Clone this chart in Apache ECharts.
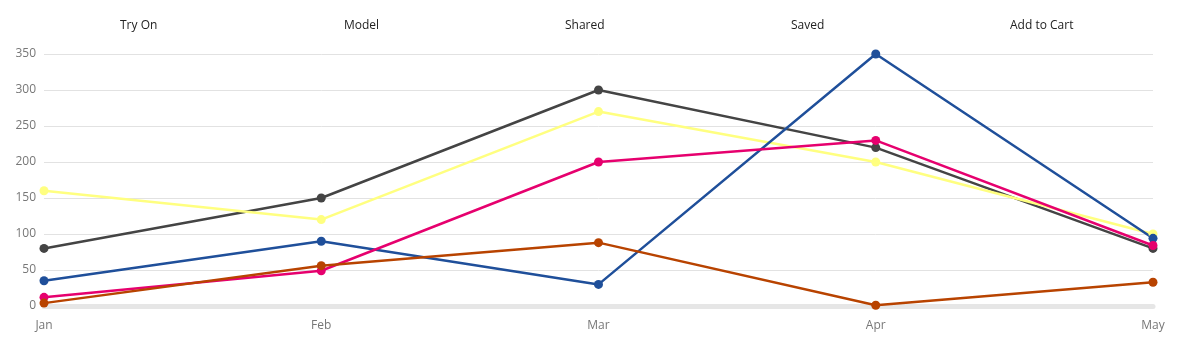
<!DOCTYPE html>
<html><head><meta charset="utf-8">
<script src="https://cdn.jsdelivr.net/npm/echarts@6/dist/echarts.min.js"></script>
<style>html,body{margin:0;padding:0;background:#fff}#c{width:1180px;height:350px}</style>
</head><body><div id="c"></div>
<script>
const categories = ['Jan','Feb','Mar','Apr','May'];
const seriesNames = ['Try On','Model','Shared','Saved','Add to Cart'];
const tryOn = [80,150,300,220,80];
const model = [160,120,270,200,100];
const shared = [35,90,30,350,94];
const saved = [12,49,200,230,84];
const addToCart = [4,56,88,1,33];
const colors = ['#444444','#ffff80','#1f4f9a','#e6006e','#b84300'];
const allData = [tryOn, model, shared, saved, addToCart];
const legendLeft = [110, 334, 555, 781, 1000];

const chart = echarts.init(document.getElementById('c'));
chart.setOption({
  animation:false,
  legend: seriesNames.map((n,i)=>({top:14,left:legendLeft[i],icon:'none',itemWidth:0,
    textStyle:{color:'#222',fontSize:12,fontFamily:'Open Sans'},
    data:[n]})),
  grid:{left:44,right:27,top:54,bottom:44},
  xAxis:{type:'category',boundaryGap:false,data:categories,
    axisLine:{show:true,lineStyle:{color:'#e6e6e6',width:5}},
    axisTick:{show:false},
    axisLabel:{color:'#777',fontSize:12,margin:14,fontFamily:'Open Sans'}},
  yAxis:{type:'value',min:0,max:350,interval:50,
    axisLine:{show:false},axisTick:{show:false},
    axisLabel:{color:'#777',fontSize:12,margin:8,fontFamily:'Open Sans'},
    splitLine:{lineStyle:{color:'#e2e2e2'}}},
  series: seriesNames.map((n,i)=>({name:n,type:'line',data:allData[i],
    color:colors[i],symbol:'circle',symbolSize:9,
    lineStyle:{width:2.5},itemStyle:{color:colors[i]}}))
});
</script></body></html>
